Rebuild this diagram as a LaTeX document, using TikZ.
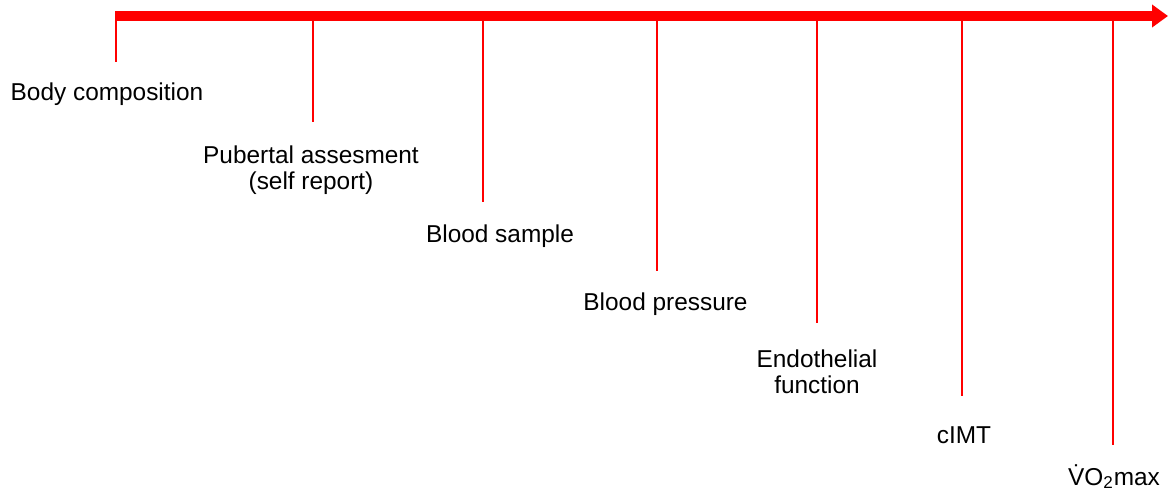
\documentclass[tikz,border=0pt]{standalone}
\usepackage{fontspec}
\setmainfont{Liberation Sans}
\usetikzlibrary{arrows.meta}
\tikzset{
    tick/.style={draw=red,line width=1pt},
    lbl/.style={anchor=base,align=center,inner sep=0pt,font=\fontsize{12.2}{13}\selectfont}
}
\begin{document}
\begin{tikzpicture}[x=0.5pt,y=-0.5pt]
        \useasboundingbox (0,0) rectangle (1172,493);
        % time axis
        \coordinate (start) at (115,16);
        \coordinate (stop) at (1168,16);
        \draw[red,line width=5pt,-{Triangle[length=8pt,width=11pt]}] (start) -- (stop);
        % ticks
        \coordinate (a0) at (116,16);  \coordinate (b0) at (116,62);
        \coordinate (a1) at (313,16);  \coordinate (b1) at (313,122);
        \coordinate (a2) at (483,16);  \coordinate (b2) at (483,202);
        \coordinate (a3) at (657,16);  \coordinate (b3) at (657,271);
        \coordinate (a4) at (817,16);  \coordinate (b4) at (817,323);
        \coordinate (a5) at (962,16);  \coordinate (b5) at (962,396);
        \coordinate (a6) at (1113,16); \coordinate (b6) at (1113,445);
        \draw[tick] (a0) -- (b0);
        \draw[tick] (a1) -- (b1);
        \draw[tick] (a2) -- (b2);
        \draw[tick] (a3) -- (b3);
        \draw[tick] (a4) -- (b4);
        \draw[tick] (a5) -- (b5);
        \draw[tick] (a6) -- (b6);
        % labels (base = last line)
        \node[lbl] (body) at (107,100) {Body composition};
        \node[lbl] (puberty) at (311,189) {Pubertal assesment\\(self report)};
        \node[lbl] (sample) at (500,242) {Blood sample};
        \node[lbl] (pressure) at (665.5,310) {Blood pressure};
        \node[lbl] (endo) at (817,393) {Endothelial\\function};
        \node[lbl] (cimt) at (964,443) {cIMT};
        \node[lbl] (vo2) at (1114,485) {\.{V}O\textsubscript{2}max};
\end{tikzpicture}
\end{document}
